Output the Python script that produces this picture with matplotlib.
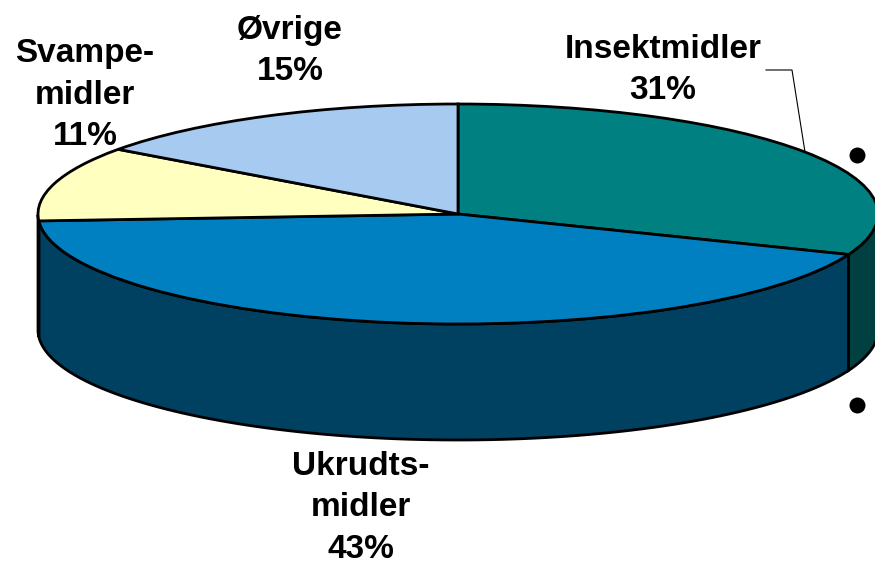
import numpy as np
import matplotlib
matplotlib.use('Agg')
import matplotlib.pyplot as plt
from matplotlib.transforms import Affine2D

plt.rcParams['font.family'] = ['Liberation Sans', 'DejaVu Sans']

# andele i procent
names = ['Insektmidler', 'Ukrudts-\nmidler', 'Svampe-\nmidler', 'Øvrige']
shares = [31, 43, 11, 15]
top_colors = ['#008080', '#0080C0', '#FFFFC0', '#A6CAF0']
side_colors = ['#004040', '#004060', '#808060', '#536578']

cx, cy = 458, 214
rx, ry = 420, 110
depth = 116

fig = plt.figure(figsize=(8.75, 5.64), dpi=100)
ax = fig.add_axes([0, 0, 1, 1])
ax.set_xlim(0, 875)
ax.set_ylim(564, 0)
ax.axis('off')

# sidevaeg, kun forreste halvdel af ellipsen
start = 90
for share, col in zip(shares, side_colors):
    stop = start - share * 3.6
    a = np.radians(np.linspace(start, stop, 100))
    a = a[np.sin(a) <= 0]
    if len(a) > 1:
        x = cx + rx * np.cos(a)
        y = cy - ry * np.sin(a)
        ax.fill(np.r_[x, x[::-1]], np.r_[y, y[::-1] + depth], fc=col, ec='black', lw=2, zorder=1)
    start = stop

# toppen tegnes med pie og trykkes sammen til en ellipse
wedges, _ = ax.pie(shares, colors=top_colors, startangle=90, counterclock=False, radius=1,
                   wedgeprops={'edgecolor': 'black', 'linewidth': 2})
squash = Affine2D().scale(rx, -ry).translate(cx, cy) + ax.transData
for w in wedges:
    w.set_transform(squash)
    w.set_zorder(2)
ax.set_aspect('auto')
ax.set_xlim(0, 875)
ax.set_ylim(564, 0)
ax.axis('off')

lab_font = dict(fontsize=24, fontweight='bold', ha='center', va='center', color='black', linespacing=1.42)
ax.text(663, 70, f'{names[0]}\n{shares[0]}%', **lab_font)
ax.text(361, 508, f'{names[1]}\n{shares[1]}%', **lab_font)
ax.text(85, 95, f'{names[2]}\n{shares[2]}%', **lab_font)
ax.text(290, 51, f'{names[3]}\n{shares[3]}%', **lab_font)

# streg til label
ax.plot([766, 792, 805], [70, 70, 152], color='black', lw=0.8, zorder=3)

# punkttegn
ax.plot([857, 857], [155, 405], 'o', color='black', ms=11.5, mew=0, zorder=3)

fig.savefig('out.png', dpi=100)
